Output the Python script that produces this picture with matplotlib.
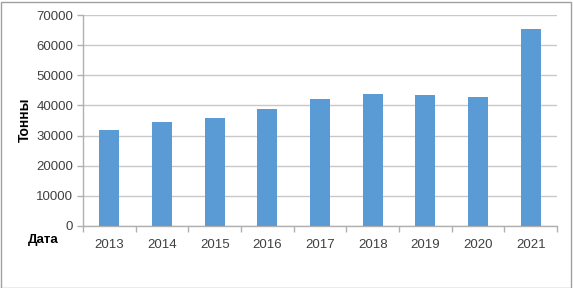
import numpy as np
import matplotlib.pyplot as plt
from matplotlib.patches import Rectangle
from matplotlib.ticker import FixedLocator

# Data
years = ['2013', '2014', '2015', '2016', '2017', '2018', '2019', '2020', '2021']
tonnes = [32000, 34600, 35700, 38900, 42100, 43900, 43350, 42900, 65400]

bar_color = '#5B9BD5'
grid_color = '#C8C8C8'
text_color = '#404040'

plt.rcParams['font.family'] = ['Liberation Sans', 'DejaVu Sans']

fig = plt.figure(figsize=(5.73, 2.88), dpi=100)
ax = fig.add_axes([83 / 573, 1 - 226 / 288, (557 - 83) / 573, (226 - 15) / 288])

x = np.arange(len(years))
ax.bar(x, tonnes, width=0.38, color=bar_color, zorder=3)

ax.set_xlim(-0.5, len(years) - 0.5)
ax.set_ylim(0, 70000)
ax.set_yticks(np.arange(0, 70001, 10000))
ax.yaxis.grid(True, color=grid_color, linewidth=1.0, zorder=0)

# category labels at centres, tick marks at boundaries
ax.set_xticks(x)
ax.set_xticklabels(years)
ax.xaxis.set_minor_locator(FixedLocator(np.arange(-0.5, len(years), 1.0)))
ax.tick_params(axis='x', which='major', length=0, pad=9, labelsize=9.5, labelcolor=text_color)
ax.tick_params(axis='x', which='minor', length=4, color='#B0B0B0', width=1)
ax.tick_params(axis='y', length=4, color='#B0B0B0', width=1, pad=3, labelsize=9.5, labelcolor=text_color)

for side in ['top', 'right']:
    ax.spines[side].set_visible(False)
for side in ['left', 'bottom']:
    ax.spines[side].set_color('#B0B0B0')
    ax.spines[side].set_linewidth(1)

fig.text(25 / 573, 1 - 120 / 288, 'Тонны', rotation=90, ha='center', va='center',
         fontsize=10, fontweight='bold', color='black')
fig.text(28 / 573, 1 - 240 / 288, 'Дата', ha='left', va='center',
         fontsize=9.5, fontweight='bold', color='black')

# outer chart border
fig.patches.append(Rectangle((0.5 / 573, 0.5 / 288), 570 / 573, 286 / 288,
                             transform=fig.transFigure, fill=False,
                             edgecolor='#A0A0A0', linewidth=1))

fig.savefig('out.png', dpi=100)
